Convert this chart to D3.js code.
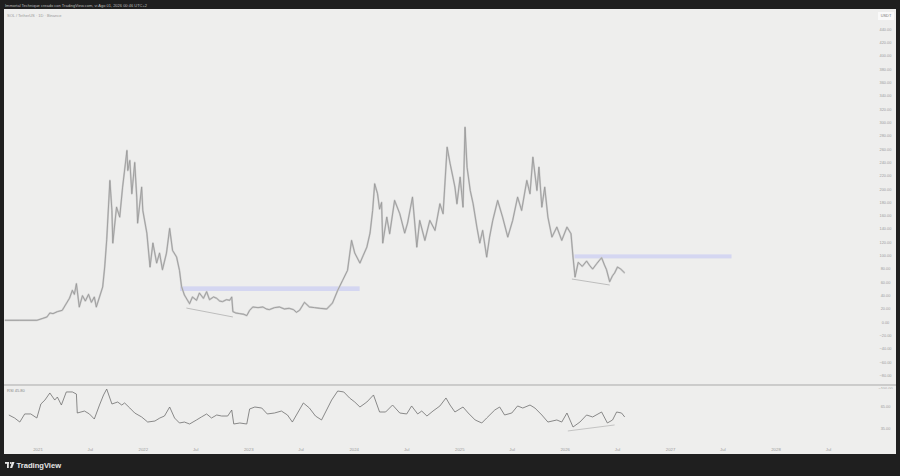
<!DOCTYPE html>
<html><head><meta charset="utf-8">
<script src="https://cdn.jsdelivr.net/npm/d3@7"></script>
<style>html,body{margin:0;padding:0;background:#1f1f1f;}svg{display:block;}</style>
</head><body>
<svg id="c" width="900" height="476"></svg>
<script>
// ---- data ----
const headerText = "Immortal Technique creado con TradingView.com, vi Ago 01, 2026 00:46 UTC+2";
const symbolText = "SOL / TetherUS · 1D · Binance";
const rsiLabel = "RSI 45.80";
const priceTicks = [440,420,400,380,360,340,320,300,280,260,240,220,200,180,160,140,120,100,80,60,40,20,0,-20,-40,-60,-80,-100];
const rsiTicks = [100, 65, 35];
const priceDates = ["2020-09-08","2020-10-30","2020-12-28","2021-01-18","2021-02-01","2021-02-11","2021-02-22","2021-03-09","2021-03-26","2021-04-06","2021-04-20","2021-04-30","2021-05-07","2021-05-14","2021-05-24","2021-06-04","2021-06-14","2021-06-25","2021-07-05","2021-07-15","2021-07-22","2021-08-02","2021-08-13","2021-08-20","2021-08-27","2021-09-07","2021-09-14","2021-09-17","2021-09-30","2021-10-11","2021-10-21","2021-11-05","2021-11-08","2021-11-15","2021-11-22","2021-12-02","2021-12-09","2021-12-12","2021-12-26","2021-12-30","2022-01-13","2022-01-24","2022-02-03","2022-02-16","2022-02-26","2022-03-08","2022-03-22","2022-04-02","2022-04-12","2022-04-26","2022-05-06","2022-05-13","2022-05-23","2022-06-10","2022-06-20","2022-07-04","2022-07-14","2022-07-28","2022-08-08","2022-08-18","2022-09-01","2022-09-12","2022-09-22","2022-10-02","2022-10-16","2022-10-27","2022-11-03","2022-11-07","2022-11-17","2022-12-01","2022-12-15","2022-12-25","2023-01-04","2023-01-15","2023-02-02","2023-02-19","2023-03-03","2023-03-13","2023-03-31","2023-04-17","2023-05-04","2023-05-21","2023-06-05","2023-06-15","2023-06-26","2023-07-13","2023-07-30","2023-08-17","2023-09-04","2023-09-28","2023-10-18","2023-11-05","2023-11-22","2023-12-09","2023-12-23","2024-01-03","2024-01-21","2024-02-01","2024-02-14","2024-02-25","2024-03-05","2024-03-12","2024-03-22","2024-03-29","2024-04-05","2024-04-09","2024-04-23","2024-05-03","2024-05-20","2024-06-07","2024-06-24","2024-07-04","2024-07-21","2024-08-05","2024-08-15","2024-09-02","2024-09-19","2024-10-07","2024-10-24","2024-11-04","2024-11-18","2024-11-28","2024-12-08","2024-12-15","2024-12-22","2025-01-02","2025-01-12","2025-01-19","2025-01-26","2025-02-06","2025-02-16","2025-03-01","2025-03-11","2025-03-21","2025-04-04","2025-04-14","2025-04-25","2025-05-12","2025-05-29","2025-06-16","2025-07-03","2025-07-20","2025-08-03","2025-08-21","2025-09-01","2025-09-11","2025-09-25","2025-10-02","2025-10-12","2025-10-22","2025-11-02","2025-11-16","2025-12-03","2025-12-20","2026-01-07","2026-01-21","2026-01-28","2026-02-04","2026-02-15","2026-03-01","2026-03-16","2026-03-27","2026-04-06","2026-04-20","2026-05-07","2026-05-17","2026-05-24","2026-06-04","2026-06-14","2026-06-21","2026-07-01","2026-07-12","2026-07-26"];
const priceValues = [3,3,3,6,8,14,13,16,18,26,36,48,42,58,23,40,32,42,30,38,23,38,53,83,124,213,168,119,173,158,203,258,228,243,193,240,188,149,203,168,134,83,119,89,104,79,104,141,108,98,78,54,41,28,38,33,44,36,46,34,38,36,32,31,34,33,38,16,14,13,12,10,18,23,22,23,20,19,22,23,20,21,19,15,18,30,23,22,21,20,29,48,63,78,123,104,89,100,113,134,168,208,193,170,180,119,158,133,183,163,134,149,188,113,153,123,153,138,178,163,263,239,218,203,178,218,173,293,233,198,178,143,119,138,98,128,153,183,158,128,153,188,168,213,193,248,198,233,173,203,158,128,143,123,143,133,98,68,90,84,92,85,80,88,97,86,79,61,70,74,83,80,74];
const rsiDates = ["2020-09-22","2020-10-12","2020-10-30","2020-11-16","2020-12-07","2020-12-28","2021-01-11","2021-01-25","2021-02-11","2021-02-28","2021-03-09","2021-03-23","2021-04-09","2021-04-30","2021-05-14","2021-05-17","2021-06-11","2021-06-28","2021-07-15","2021-08-02","2021-08-16","2021-08-27","2021-09-14","2021-10-04","2021-10-18","2021-10-28","2021-11-15","2021-12-02","2021-12-26","2022-01-16","2022-02-10","2022-02-27","2022-03-15","2022-04-02","2022-04-19","2022-05-06","2022-05-23","2022-06-10","2022-07-04","2022-07-21","2022-08-08","2022-08-25","2022-09-12","2022-09-29","2022-10-20","2022-11-03","2022-11-10","2022-12-01","2022-12-25","2023-01-04","2023-01-22","2023-02-15","2023-03-06","2023-03-31","2023-04-24","2023-05-15","2023-06-01","2023-06-19","2023-07-09","2023-07-30","2023-08-20","2023-09-10","2023-10-01","2023-10-15","2023-11-05","2023-11-26","2023-12-16","2024-01-03","2024-01-21","2024-02-14","2024-03-08","2024-03-29","2024-04-19","2024-05-13","2024-06-07","2024-07-01","2024-07-18","2024-08-08","2024-08-22","2024-09-09","2024-09-30","2024-10-24","2024-11-14","2024-11-28","2024-12-15","2025-01-12","2025-01-30","2025-02-23","2025-03-18","2025-04-04","2025-05-02","2025-05-19","2025-06-05","2025-06-30","2025-07-20","2025-08-07","2025-09-01","2025-09-18","2025-10-12","2025-11-02","2025-12-03","2025-12-20","2026-01-07","2026-01-28","2026-02-21","2026-03-16","2026-04-06","2026-05-07","2026-05-27","2026-06-14","2026-06-28","2026-07-15","2026-07-26"];
const rsiValues = [54.1,50.0,44.5,55.5,55.5,50.0,69.1,74.5,84.1,74.5,78.6,67.7,85.5,85.5,82.7,56.8,59.5,55.5,48.6,67.7,81.4,89.5,69.1,71.8,67.7,70.5,63.6,56.8,51.4,44.5,45.9,50.0,52.7,65.0,50.0,43.2,44.5,41.8,47.3,51.4,55.5,50.0,54.1,52.7,52.7,60.9,41.8,43.2,41.8,62.3,65.0,63.6,55.5,56.8,59.5,54.1,44.5,56.8,70.5,63.6,52.7,47.3,63.6,74.5,86.8,85.5,77.3,71.8,65.0,71.8,81.4,58.2,58.2,67.7,56.8,55.5,66.4,55.5,59.5,52.7,59.5,66.4,77.3,67.7,58.2,65.0,56.8,47.3,43.2,50.0,60.9,65.0,54.1,56.8,66.4,63.6,67.7,63.6,54.1,44.5,47.3,44.5,56.8,37.7,44.5,54.1,51.4,58.2,43.2,47.3,58.2,56.8,51.4];
// support zones [start, end, low, high]
const zoneStarts = ["2022-05-08", "2026-02-02"];
const zoneEnds = ["2024-01-20", "2027-07-31"];
const zoneLows = [47, 96];
const zoneHighs = [54, 102];
// divergence trend lines
const priceTrendDates = [["2022-05-30","2022-11-07"],["2026-01-24","2026-06-04"]];
const priceTrendValues = [[21.4, 8],[65, 56]];
const rsiTrendDates = ["2026-01-10","2026-06-21"];
const rsiTrendValues = [32.3, 40.5];

// ---- layout ----
const parse = d3.timeParse("%Y-%m-%d");
const svg = d3.select("#c");
const W = 900, H = 476;
const panel = {x0: 4, x1: 896, y0: 9, y1: 454};
const pricePane = {y0: 9, y1: 385};
const rsiPane = {y0: 385, y1: 440};
const plotRight = 874;

const x = d3.scaleTime().domain([parse("2021-01-01"), parse("2028-01-01")]).range([38, 776]);
const y = d3.scaleLinear().domain([0, 440]).range([322.3, 29.3]);
const yr = d3.scaleLinear().domain([35, 65]).range([429, 407]);

svg.append("rect").attr("width", W).attr("height", H).attr("fill", "#1f1f1f");
svg.append("rect").attr("x", panel.x0).attr("y", panel.y0).attr("width", panel.x1 - panel.x0).attr("height", panel.y1 - panel.y0).attr("fill", "#eeeeed");

const defs = svg.append("defs");
defs.append("clipPath").attr("id", "cp").append("rect").attr("x", panel.x0).attr("y", pricePane.y0).attr("width", plotRight - panel.x0).attr("height", pricePane.y1 - pricePane.y0);
defs.append("clipPath").attr("id", "cr").append("rect").attr("x", panel.x0).attr("y", rsiPane.y0).attr("width", plotRight - panel.x0).attr("height", rsiPane.y1 - rsiPane.y0);
defs.append("clipPath").attr("id", "cpa").append("rect").attr("x", plotRight).attr("y", pricePane.y0).attr("width", panel.x1 - plotRight).attr("height", pricePane.y1 - pricePane.y0 + 4);
defs.append("clipPath").attr("id", "cra").append("rect").attr("x", plotRight).attr("y", rsiPane.y0).attr("width", panel.x1 - plotRight).attr("height", rsiPane.y1 - rsiPane.y0);

// header
svg.append("text").attr("x", 5).attr("y", 6.5).text(headerText)
  .attr("font-family", "Liberation Sans, Arial, sans-serif").attr("font-size", 4).attr("fill", "#bdbdbd");

const gp = svg.append("g").attr("clip-path", "url(#cp)");
// zones
zoneStarts.forEach((s, i) => {
  gp.append("rect").attr("x", x(parse(s))).attr("width", x(parse(zoneEnds[i])) - x(parse(s)))
    .attr("y", y(zoneHighs[i])).attr("height", y(zoneLows[i]) - y(zoneHighs[i]))
    .attr("fill", "#c9ccf2").attr("opacity", 0.7);
});
// trend lines
priceTrendDates.forEach((d, i) => {
  gp.append("line").attr("x1", x(parse(d[0]))).attr("x2", x(parse(d[1])))
    .attr("y1", y(priceTrendValues[i][0])).attr("y2", y(priceTrendValues[i][1]))
    .attr("stroke", "#a8a8a8").attr("stroke-width", 0.7);
});
const priceData = priceDates.map((d, i) => ({t: parse(d), v: priceValues[i]}));
const pline = d3.line().x(d => x(d.t)).y(d => y(d.v));
gp.append("path").datum(priceData).attr("d", pline).attr("fill", "none")
  .attr("stroke", "#cccccc").attr("stroke-width", 1.9).attr("stroke-linejoin", "round");
gp.append("path").datum(priceData).attr("d", pline).attr("fill", "none")
  .attr("stroke", "#969696").attr("stroke-width", 0.8).attr("stroke-linejoin", "round");

// symbol legend
svg.append("text").attr("x", 7).attr("y", 16.5).text(symbolText)
  .attr("font-family", "Liberation Sans, Arial, sans-serif").attr("font-size", 4).attr("fill", "#9a9a9a");

// price axis
const gpa = svg.append("g").attr("clip-path", "url(#cpa)");
gpa.selectAll("text").data(priceTicks).join("text")
  .attr("x", 885.5).attr("y", d => y(d) + 1.4).attr("text-anchor", "middle")
  .attr("font-family", "Liberation Sans, Arial, sans-serif").attr("font-size", 3.9).attr("fill", "#9c9c9c")
  .text(d => d3.format(".2f")(d));
svg.append("rect").attr("x", 878).attr("y", 12).attr("width", 16).attr("height", 8).attr("fill", "#f9f9f9");
svg.append("text").attr("x", 886).attr("y", 17.4).attr("text-anchor", "middle").text("USDT")
  .attr("font-family", "Liberation Sans, Arial, sans-serif").attr("font-size", 3.9).attr("fill", "#777");

// separator
svg.append("line").attr("x1", panel.x0).attr("x2", panel.x1).attr("y1", 385).attr("y2", 385)
  .attr("stroke", "#a9a9a9").attr("stroke-width", 1);

// RSI pane
const gr = svg.append("g").attr("clip-path", "url(#cr)");
const rsiData = rsiDates.map((d, i) => ({t: parse(d), v: rsiValues[i]}));
gr.append("line").attr("x1", x(parse(rsiTrendDates[0]))).attr("x2", x(parse(rsiTrendDates[1])))
  .attr("y1", yr(rsiTrendValues[0])).attr("y2", yr(rsiTrendValues[1]))
  .attr("stroke", "#b0b0b0").attr("stroke-width", 0.7);
gr.append("path").datum(rsiData).attr("d", d3.line().x(d => x(d.t)).y(d => yr(d.v)))
  .attr("fill", "none").attr("stroke", "#6e6e6e").attr("stroke-width", 0.8).attr("stroke-linejoin", "round");
svg.append("text").attr("x", 7).attr("y", 391.5).text(rsiLabel)
  .attr("font-family", "Liberation Sans, Arial, sans-serif").attr("font-size", 4).attr("fill", "#888");
const gra = svg.append("g").attr("clip-path", "url(#cra)");
gra.selectAll("text").data(rsiTicks).join("text")
  .attr("x", 885.5).attr("y", d => yr(d) + 1.4).attr("text-anchor", "middle")
  .attr("font-family", "Liberation Sans, Arial, sans-serif").attr("font-size", 3.9).attr("fill", "#9c9c9c")
  .text(d => d3.format(".2f")(d));

// time axis
const tTicks = d3.timeMonth.every(6).range(parse("2021-01-01"), parse("2028-07-02"));
svg.append("g").selectAll("text").data(tTicks).join("text")
  .attr("x", d => x(d)).attr("y", 450.5).attr("text-anchor", "middle")
  .attr("font-family", "Liberation Sans, Arial, sans-serif").attr("font-size", 4.3).attr("fill", "#9a9a9a")
  .text(d => d.getMonth() === 0 ? d3.timeFormat("%Y")(d) : "Jul");

// TradingView branding
const logo = svg.append("g").attr("fill", "#e6e6e6");
logo.append("rect").attr("x", 5).attr("y", 462).attr("width", 4).attr("height", 1.8);
logo.append("rect").attr("x", 7).attr("y", 462).attr("width", 1.8).attr("height", 6);
logo.append("circle").attr("cx", 10.8).attr("cy", 463).attr("r", 1);
logo.append("path").attr("d", "M12 462 L14.5 462 L12.2 468 L10 468 Z");
svg.append("text").attr("x", 16.5).attr("y", 468).text("TradingView")
  .attr("font-family", "Liberation Sans, Arial, sans-serif").attr("font-size", 7.6).attr("font-weight", "bold").attr("fill", "#e6e6e6");
</script>
</body></html>
